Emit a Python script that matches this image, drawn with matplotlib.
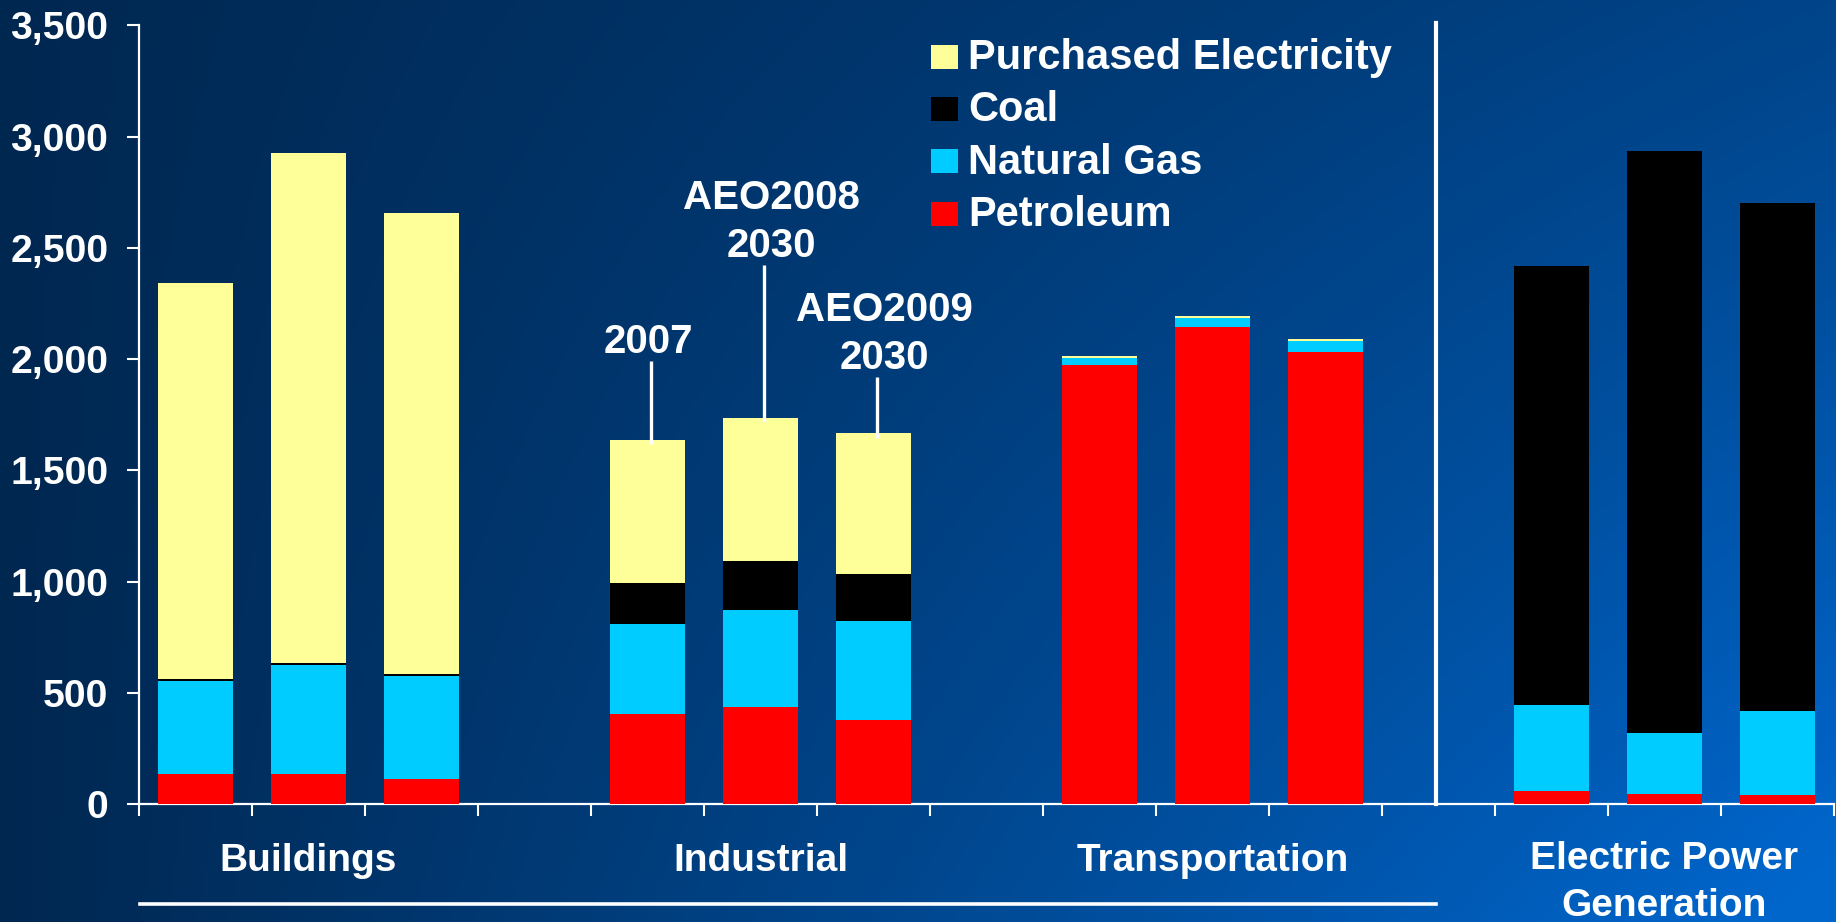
import numpy as np
import matplotlib
matplotlib.use("Agg")
import matplotlib.pyplot as plt
from matplotlib.patches import Rectangle
from matplotlib.lines import Line2D

# ---------------- data ----------------
groups = ["Buildings", "Industrial", "Transportation", "Electric Power\nGeneration"]
scenarios = ["2007", "AEO2008\n2030", "AEO2009\n2030"]
series_names = ["Purchased Electricity", "Coal", "Natural Gas", "Petroleum"]
petroleum = [134, 134, 113, 406, 438, 377, 1973, 2144, 2032, 60, 43, 39]
natural_gas = [421, 493, 464, 405, 433, 444, 31, 41, 50, 383, 278, 381]
coal = [5, 8, 7, 182, 219, 211, 0, 0, 0, 1976, 2613, 2283]
electricity = [1780, 2291, 2072, 643, 645, 635, 10, 9, 9, 0, 0, 0]
y_ticks = [0, 500, 1000, 1500, 2000, 2500, 3000, 3500]

colors = {"Purchased Electricity": "#FFFF99", "Coal": "#000000",
          "Natural Gas": "#00CCFF", "Petroleum": "#FF0000"}

W, H = 1836, 922
FONT = "Liberation Sans"
plt.rcParams["font.family"] = [FONT, "DejaVu Sans"]

fig = plt.figure(figsize=(W / 100, H / 100), dpi=100)

# ---------------- background gradient ----------------
bg = fig.add_axes([0, 0, 1, 1], zorder=-10)
gx = np.linspace(0, 1, 400)[None, :]
gy = np.linspace(0, 1, 200)[:, None]  # 0 top -> 1 bottom
t = np.clip(gx * (0.42 + 0.58 * gy) + 0.04 * gx, 0, 1)
dark = np.array([0x00, 0x27, 0x50]) / 255
bright = np.array([0x00, 0x66, 0xCC]) / 255
img = dark[None, None, :] * (1 - t[..., None]) + bright[None, None, :] * t[..., None]
bg.imshow(img, aspect="auto", extent=[0, 1, 0, 1], origin="upper")
bg.set_axis_off()

# ---------------- main axes ----------------
ax_left = 139 / W
ax_bottom = (H - 804) / H
ax_w = 1695 / W
ax_h = (804 - 25.3) / H
ax = fig.add_axes([ax_left, ax_bottom, ax_w, ax_h])
ax.set_facecolor("none")
ax.set_xlim(0, 15)
ax.set_ylim(0, 3500)

# bar positions: 3 bars per group, one empty slot between groups
xpos = []
for g in range(len(groups)):
    for j in range(len(scenarios)):
        xpos.append(g * 4 + j + 0.5)
xpos = np.array(xpos)
bw = 0.66

stack = [("Petroleum", petroleum), ("Natural Gas", natural_gas),
         ("Coal", coal), ("Purchased Electricity", electricity)]
bottom = np.zeros(len(xpos))
for name, vals in stack:
    v = np.array(vals, dtype=float)
    ax.bar(xpos, v, bw, bottom=bottom, color=colors[name], linewidth=0, zorder=3)
    bottom += v
totals = bottom

# spines / ticks
for s in ["top", "right"]:
    ax.spines[s].set_visible(False)
for s in ["left", "bottom"]:
    ax.spines[s].set_color("white")
    ax.spines[s].set_linewidth(1.6)
ax.set_yticks(y_ticks)
ax.set_yticklabels([f"{v:,}" for v in y_ticks])
ax.set_xticks(np.arange(0, 16))
ax.set_xticklabels([])
ax.tick_params(axis="y", colors="white", length=8.6, width=1.5, pad=13.5,
               labelsize=28.2)
ax.tick_params(axis="x", colors="white", length=8.6, width=1.5)
for lab in ax.get_yticklabels():
    lab.set_fontweight("bold")
    lab.set_color("white")

# divider between end-use sectors and electric power
ax.add_line(Line2D([11.48, 11.48], [0, 3510], color="white", lw=3.0,
                   clip_on=False, zorder=4))

# group labels
label_y = [(871,), (871,), (871,), (869, 916)]
for g, name in enumerate(groups):
    xc = g * 4 + 1.5
    lines = name.split("\n")
    for k, line in enumerate(lines):
        yb = label_y[g][k]
        fig.text((139 + xc * 113) / W, 1 - yb / H, line, ha="center", va="baseline",
                 fontsize=28, fontweight="bold", color="white")

# bottom bracket line under end-use sectors
fig.add_artist(Line2D([140 / W, 1436 / W], [1 - 903.5 / H, 1 - 903.5 / H],
                      color="white", lw=2.6, transform=fig.transFigure))

# scenario annotations on the Industrial bars
stem_tops = [1991, 2422, 1919]
text_dx = [0.01, 0.10, 0.095]
line_gap = 216
for j, lab in enumerate(scenarios):
    i = 3 + j
    xc = xpos[i] + 0.035
    ax.add_line(Line2D([xc, xc], [totals[i] - 20, stem_tops[j]], color="white",
                       lw=2.4, zorder=5, solid_capstyle="butt"))
    lines = lab.split("\n")
    base = stem_tops[j] + 36
    for k, line in enumerate(reversed(lines)):
        ax.text(xpos[i] + text_dx[j], base + k * line_gap, line, ha="center",
                va="baseline", fontsize=29, fontweight="bold", color="white",
                zorder=6)

# legend (manual)
leg_bottoms = [69, 121, 173.5, 225.7]
for k, name in enumerate(series_names):
    yb = leg_bottoms[k]
    fig.add_artist(Rectangle((931 / W, 1 - yb / H), 27 / W, 24 / H,
                             transform=fig.transFigure, facecolor=colors[name],
                             edgecolor="none"))
    fig.text(968 / W, 1 - yb / H, name, ha="left", va="baseline", fontsize=30,
             fontweight="bold", color="white")

fig.savefig("out.png", dpi=100)
